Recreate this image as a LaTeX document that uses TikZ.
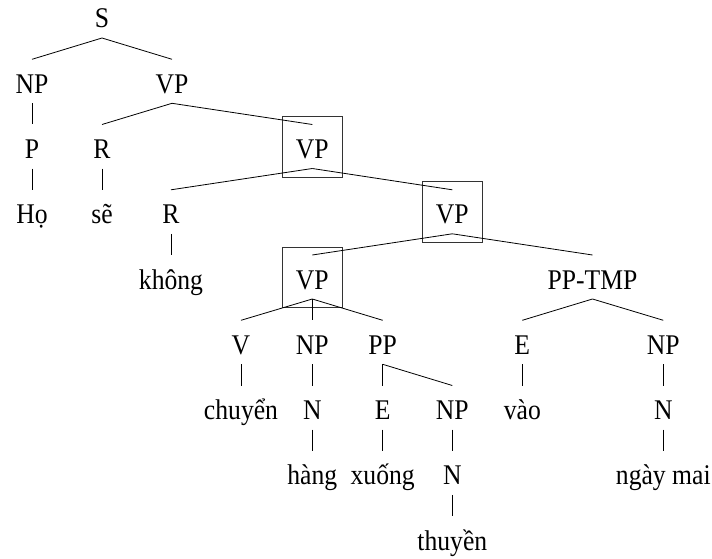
\documentclass[tikz,border=0pt]{standalone}
\usepackage{fontspec}
\setmainfont{Liberation Serif}[FakeStretch=0.9]
\newcommand\tedge[2]{\draw[treeline] ([yshift=-10pt]#1.base) -- ([yshift=34pt]#2.base);}
\newcommand\tbox[1]{\draw[boxline] ([shift={(-30pt,-18.5pt)}]#1.base) rectangle ([shift={(30pt,42.1pt)}]#1.base);}
\begin{document}
\begin{tikzpicture}[x=1pt,y=-1pt,
  lab/.style={anchor=base,inner sep=0pt,font=\fontsize{28.5}{32}\selectfont},
  treeline/.style={line width=0.8pt,black},
  boxline/.style={line width=0.8pt,black!80}]
\useasboundingbox (0,0) rectangle (712,559);
% row 0
\node[lab] (S) at (102,28) {S};
% row 1
\node[lab] (NP1) at (32,93.3) {NP};
\node[lab] (VP1) at (172,93.3) {VP};
% row 2
\node[lab] (P1) at (32,158.5) {P};
\node[lab] (R1) at (102,158.5) {R};
\node[lab] (VP2) at (312.3,158.5) {VP};
% row 3
\node[lab] (ho) at (32,223.8) {Họ};
\node[lab] (se) at (102,223.8) {sẽ};
\node[lab] (R2) at (171,223.8) {R};
\node[lab] (VP3) at (452.3,223.8) {VP};
% row 4
\node[lab] (khong) at (171,289) {không};
\node[lab] (VP4) at (312.3,289) {VP};
\node[lab] (PPTMP) at (592.5,289) {PP-TMP};
% row 5
\node[lab] (V1) at (241,354.3) {V};
\node[lab] (NP2) at (312.3,354.3) {NP};
\node[lab] (PP1) at (382.7,354.3) {PP};
\node[lab] (E2) at (522.3,354.3) {E};
\node[lab] (NP4) at (663.3,354.3) {NP};
% row 6
\node[lab] (chuyen) at (241,419.5) {chuyển};
\node[lab] (N1) at (312.3,419.5) {N};
\node[lab] (E1) at (382.7,419.5) {E};
\node[lab] (NP3) at (452.3,419.5) {NP};
\node[lab] (vao) at (522.3,419.5) {vào};
\node[lab] (N3) at (663.3,419.5) {N};
% row 7
\node[lab] (hang) at (312.3,484.8) {hàng};
\node[lab] (xuong) at (382.7,484.8) {xuống};
\node[lab] (N2) at (452.3,484.8) {N};
\node[lab] (ngaymai) at (663.3,484.8) {ngày mai};
% row 8
\node[lab] (thuyen) at (452.3,550) {thuyền};
% boxes
\tbox{VP2}
\tbox{VP3}
\tbox{VP4}
% edges
\tedge{S}{NP1}
\tedge{S}{VP1}
\tedge{NP1}{P1}
\tedge{P1}{ho}
\tedge{VP1}{R1}
\tedge{VP1}{VP2}
\tedge{R1}{se}
\tedge{VP2}{R2}
\tedge{VP2}{VP3}
\tedge{R2}{khong}
\tedge{VP3}{VP4}
\tedge{VP3}{PPTMP}
\tedge{VP4}{V1}
\tedge{VP4}{NP2}
\tedge{VP4}{PP1}
\tedge{V1}{chuyen}
\tedge{NP2}{N1}
\tedge{N1}{hang}
\tedge{PP1}{E1}
\tedge{PP1}{NP3}
\tedge{E1}{xuong}
\tedge{NP3}{N2}
\tedge{N2}{thuyen}
\tedge{PPTMP}{E2}
\tedge{PPTMP}{NP4}
\tedge{E2}{vao}
\tedge{NP4}{N3}
\tedge{N3}{ngaymai}
\end{tikzpicture}
\end{document}
